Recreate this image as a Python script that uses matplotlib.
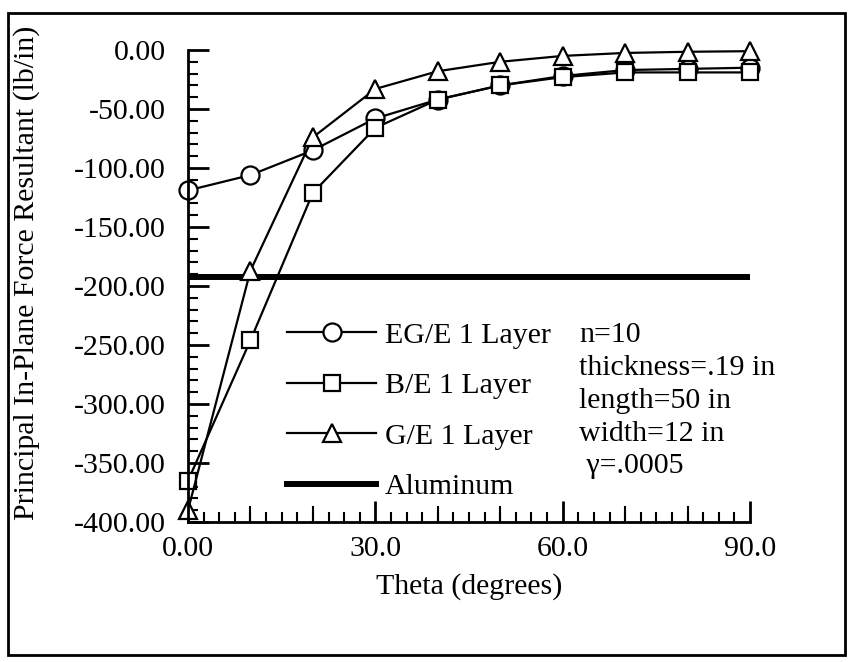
import matplotlib
matplotlib.use("Agg")
import matplotlib.pyplot as plt
from matplotlib.lines import Line2D
from matplotlib.patches import Rectangle
from matplotlib.ticker import FixedLocator, MultipleLocator

plt.rcParams["font.family"] = ["Liberation Serif", "DejaVu Serif"]

theta = [0, 10, 20, 30, 40, 50, 60, 70, 80, 90]
eg_e = [-119, -106, -85, -58, -42, -30, -22, -17, -16, -15]
b_e = [-365, -246, -121, -66, -42, -30, -23, -19, -19, -19]
g_e = [-390, -187, -74, -33, -18, -10, -5, -2.5, -1.5, -1]
aluminum = -192

x_ticks = [0, 30, 60, 90]
x_labels = ["0.00", "30.0", "60.0", "90.0"]
notes = ["n=10", "thickness=.19 in", "length=50 in", "width=12 in", " γ=.0005"]

FS = 21.5

fig = plt.figure(figsize=(8.5, 6.62), dpi=100)
ax = fig.add_axes([188 / 850, 1 - 522 / 662, 562 / 850, 472 / 662])

style = dict(color="black", lw=1.6, mfc="white", mec="black", mew=1.6, clip_on=False)
ax.axhline(aluminum, color="black", lw=4.3, zorder=1)
ax.plot(theta, eg_e, marker="o", ms=13, **style)
ax.plot(theta, b_e, marker="s", ms=12, **style)
ax.plot(theta, g_e, marker="^", ms=13, **style)

ax.set_xlim(0, 90)
ax.set_ylim(-400, 0)
for s in ("top", "right"):
    ax.spines[s].set_visible(False)
for s in ("left", "bottom"):
    ax.spines[s].set_linewidth(2)

ax.yaxis.set_major_locator(MultipleLocator(50))
ax.yaxis.set_minor_locator(MultipleLocator(10))
ax.yaxis.set_major_formatter(lambda v, pos: f"{v:.2f}")
ax.set_xticks(x_ticks, x_labels)
ax.xaxis.set_minor_locator(FixedLocator([t * 2.5 for t in range(37)]))
ax.tick_params(axis="y", which="major", direction="in", length=15, width=2, pad=16, labelsize=FS)
ax.tick_params(axis="y", which="minor", direction="in", length=7, width=1.5)
ax.tick_params(axis="x", which="major", direction="in", length=15, width=2, pad=10, labelsize=FS)
ax.tick_params(axis="x", which="minor", direction="in", length=7, width=1.5)
# longer ticks every 10 degrees on the x axis
for t in range(10, 90, 10):
    if t % 30:
        ax.plot([t, t], [0, 0.032], transform=ax.get_xaxis_transform(), color="black", lw=1.5, clip_on=False)

ax.set_xlabel("Theta (degrees)", fontsize=FS, labelpad=8)
ax.set_ylabel("Principal In-Plane Force Resultant (lb/in)", fontsize=FS)
ax.yaxis.set_label_coords(-0.263, 0.527)

handles = [
    Line2D([], [], marker="o", ms=13, **style),
    Line2D([], [], marker="s", ms=12, **style),
    Line2D([], [], marker="^", ms=13, **style),
    Line2D([], [], color="black", lw=4.3),
]
ax.legend(handles, ["EG/E 1 Layer", "B/E 1 Layer", "G/E 1 Layer", "Aluminum"],
          loc="upper left", bbox_to_anchor=(0.176, 0.424), frameon=False, fontsize=FS,
          handlelength=3.0, handletextpad=0.27, labelspacing=0.79, borderpad=0, borderaxespad=0)
ax.text(0.696, 0.424, "\n".join(notes), transform=ax.transAxes, fontsize=FS,
        va="top", ha="left", linespacing=1.345)

fig.patches.append(Rectangle((8 / 850, 7 / 662), 837 / 850, 642 / 662, transform=fig.transFigure,
                             fill=False, lw=2, ec="black"))

fig.savefig("out.png", dpi=100)
